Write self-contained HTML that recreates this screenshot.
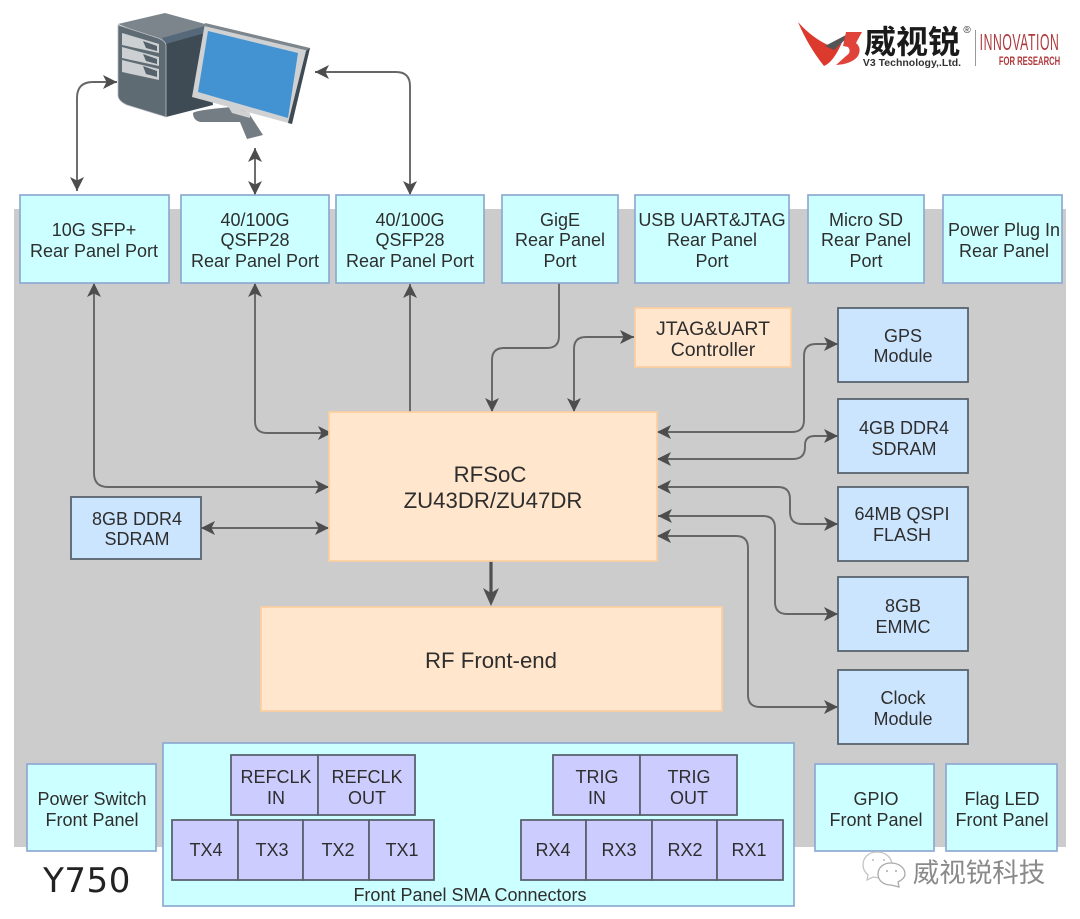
<!DOCTYPE html>
<html><head><meta charset="utf-8"><style>
html,body{margin:0;padding:0;background:#fff}
svg{display:block}
text{font-family:"Liberation Sans","Noto Sans CJK SC",sans-serif;font-size:18px;fill:#2e2e2e;text-anchor:middle}
.c{fill:#ccffff;stroke:#8ea9d2;stroke-width:1.7}
.o{fill:#ffe6cc;stroke:#fdcf9f;stroke-width:1.7}
.b{fill:#cce5ff;stroke:#59636d;stroke-width:1.8}
.p{fill:#ccccff;stroke:#59636d;stroke-width:1.8}
.l{fill:none;stroke:#666;stroke-width:1.9}
</style></head><body>
<svg width="1080" height="919" viewBox="0 0 1080 919" xmlns="http://www.w3.org/2000/svg">
<defs>
<marker id="a" markerUnits="userSpaceOnUse" markerWidth="16" markerHeight="16" refX="14" refY="8" orient="auto-start-reverse"><path d="M0 1L14 8L0 15L3.5 8Z" fill="#4d4d4d"/></marker>
</defs>
<rect x="14" y="209" width="1052" height="638" fill="#cccccc"/>

<!-- computer -->
<path d="M118 24L165 13L205 24L205 40L165 42Z" fill="#7c858b"/>
<path d="M162 38L205 26L205 33L166 45Z" fill="#55697a"/>
<path d="M166 44L205 33L213 105L166 117Z" fill="#3f4b54"/>
<path d="M118 25L158 38Q166 41 166 46L166 117L127 105Q118 101 118 95Z" fill="#5f6b73" stroke="#b9bec2" stroke-width=".8"/>
<path d="M122 33L159 44L159 53L122 45Z M122 47L159 57L159 66L122 58Z M122 60L159 69L159 80L122 72Z" fill="#cdd0d3"/>
<path d="M143 41L157 46L157 51L146 48Z M143 54L157 59L157 64L146 61Z M143 66L157 71L157 77L146 74Z" fill="#55626b"/>
<path d="M193 113Q196 110 232 107L245 111L250 115L263 135L247 139L240 122L200 122Q193 120 193 113Z" fill="#747d84"/>
<path d="M228 106L250 113L250 118L232 113Z" fill="#cfd1d3"/>
<path d="M205 23L310 48L292 124L192 97Z" fill="#cfd1d3"/>
<path d="M205 23L310 48L309 51L204 26Z" fill="#7c868c"/>
<path d="M310 48L292 124L288 123L306 51Z" fill="#3f4b54"/>
<path d="M208 31L298 53L288 118L198 92Z" fill="#4393d3"/>

<!-- logo -->
<path d="M798 22Q808 46 824 66Q834 62 843 40L850 35L830 46Q812 38 798 22Z" fill="#dc3a2c"/>
<path d="M825 46L846 35L848 37L834 50Z" fill="#555"/>
<path d="M846 32L862 32L856 43Q862 48 858 56Q852 64 836 65L846 56Q852 52 848 47L843 46Z" fill="#e0433a"/>
<text x="912" y="53" style="font-size:32px;fill:#1a1a1a;font-weight:700">威视锐</text>
<text x="967" y="33" style="font-size:10px;fill:#333">®</text>
<text x="912" y="66" style="font-size:10.5px;font-weight:700;fill:#333">V3 Technology,.Ltd.</text>
<rect x="975" y="30" width="1" height="36" fill="#999"/>
<text transform="translate(1019.500,50) scale(.58,1.1)" style="font-size:21px;fill:#b03a3e;letter-spacing:1px">INNOVATION</text>
<text transform="translate(1029.500,65) scale(.64,1)" style="font-size:12px;fill:#b03a3e;font-weight:700">FOR RESEARCH</text>

<!-- connectors -->
<path class="l" d="M77 191V98Q77 82 93 82H117" marker-start="url(#a)" marker-end="url(#a)"/>
<path class="l" d="M255 195V148" marker-start="url(#a)" marker-end="url(#a)"/>
<path class="l" d="M410 195V86Q410 72 396 72H315" marker-start="url(#a)" marker-end="url(#a)"/>
<path class="l" d="M94 283V473Q94 487 108 487H329" marker-start="url(#a)" marker-end="url(#a)"/>
<path class="l" d="M255 283V421Q255 433 267 433H332" marker-start="url(#a)" marker-end="url(#a)"/>
<path class="l" d="M410 412V284" marker-end="url(#a)"/>
<path class="l" d="M559 283V336Q559 348 547 348H504Q492 348 492 360V412" marker-end="url(#a)"/>
<path class="l" d="M634 337H586Q574 337 574 349V412" marker-start="url(#a)" marker-end="url(#a)"/>
<path class="l" d="M657 432H792Q804 432 804 420V356Q804 344 816 344H838" marker-start="url(#a)" marker-end="url(#a)"/>
<path class="l" d="M657 459H793Q805 459 805 447V445Q805 436 815 436H838" marker-start="url(#a)" marker-end="url(#a)"/>
<path class="l" d="M657 487H778Q790 487 790 499V512Q790 524 802 524H838" marker-start="url(#a)" marker-end="url(#a)"/>
<path class="l" d="M658 516H763Q775 516 775 528V602Q775 614 787 614H838" marker-start="url(#a)" marker-end="url(#a)"/>
<path class="l" d="M657 536H736Q748 536 748 548V695Q748 707 760 707H838" marker-start="url(#a)" marker-end="url(#a)"/>
<path class="l" d="M201 528H329" marker-start="url(#a)" marker-end="url(#a)"/>
<path d="M491 561V596" fill="none" stroke="#505050" stroke-width="3.2"/>
<path d="M483 588L491 606L499 588L491 593Z" fill="#505050"/>

<!-- top row -->
<rect class="c" x="20" y="195" width="149" height="88"/>
<text x="94" y="236">10G SFP+</text><text x="94" y="257">Rear Panel Port</text>
<rect class="c" x="181" y="195" width="148" height="88"/>
<text x="255" y="226">40/100G</text><text x="255" y="246">QSFP28</text><text x="255" y="267">Rear Panel Port</text>
<rect class="c" x="336" y="195" width="148" height="88"/>
<text x="410" y="226">40/100G</text><text x="410" y="246">QSFP28</text><text x="410" y="267">Rear Panel Port</text>
<rect class="c" x="502" y="195" width="116" height="88"/>
<text x="560" y="226">GigE</text><text x="560" y="246">Rear Panel</text><text x="560" y="267">Port</text>
<rect class="c" x="635" y="195" width="154" height="88"/>
<text x="712" y="226">USB UART&amp;JTAG</text><text x="712" y="246">Rear Panel</text><text x="712" y="267">Port</text>
<rect class="c" x="808" y="195" width="116" height="88"/>
<text x="866" y="226">Micro SD</text><text x="866" y="246">Rear Panel</text><text x="866" y="267">Port</text>
<rect class="c" x="943" y="195" width="119" height="88"/>
<text x="1004" y="236">Power Plug In</text><text x="1004" y="257">Rear Panel</text>

<!-- middle -->
<rect class="o" x="635" y="308" width="156" height="59"/>
<text x="713" y="335" style="font-size:19.500px">JTAG&amp;UART</text><text x="713" y="356" style="font-size:19.500px">Controller</text>
<rect class="b" x="838" y="308" width="130" height="74"/>
<text x="903" y="342">GPS</text><text x="903" y="362">Module</text>
<rect class="b" x="838" y="399" width="130" height="74"/>
<text x="904" y="434">4GB DDR4</text><text x="904" y="455">SDRAM</text>
<rect class="b" x="838" y="487" width="130" height="74"/>
<text x="902" y="520">64MB QSPI</text><text x="902" y="541">FLASH</text>
<rect class="b" x="838" y="577" width="130" height="74"/>
<text x="903" y="612">8GB</text><text x="903" y="633">EMMC</text>
<rect class="b" x="838" y="670" width="130" height="74"/>
<text x="903" y="704">Clock</text><text x="903" y="725">Module</text>
<rect class="o" x="329" y="412" width="328" height="149"/>
<text x="490" y="482" style="font-size:22.200px">RFSoC</text><text x="493" y="508" style="font-size:22.200px">ZU43DR/ZU47DR</text>
<rect class="o" x="261" y="607" width="461" height="104"/>
<text x="491" y="668" style="font-size:22.200px">RF Front-end</text>
<rect class="b" x="71" y="497" width="130" height="62"/>
<text x="137" y="525">8GB DDR4</text><text x="137" y="545">SDRAM</text>

<!-- bottom -->
<rect class="c" x="27" y="764" width="129" height="87"/>
<text x="92" y="805">Power Switch</text><text x="92" y="826">Front Panel</text>
<rect class="c" x="163" y="743" width="631" height="163"/>
<text x="470" y="901">Front Panel SMA Connectors</text>
<rect class="c" x="815" y="764" width="119" height="87"/>
<text x="876" y="805">GPIO</text><text x="876" y="826">Front Panel</text>
<rect class="c" x="946" y="764" width="111" height="87"/>
<text x="1002" y="805">Flag LED</text><text x="1002" y="826">Front Panel</text>

<rect class="p" x="231" y="755" width="87" height="60"/><rect class="p" x="318" y="755" width="97" height="60"/>
<text x="276" y="783">REFCLK</text><text x="276" y="804">IN</text>
<text x="367" y="783">REFCLK</text><text x="367" y="804">OUT</text>
<rect class="p" x="553" y="755" width="87" height="60"/><rect class="p" x="640" y="755" width="97" height="60"/>
<text x="597" y="783">TRIG</text><text x="597" y="804">IN</text>
<text x="689" y="783">TRIG</text><text x="689" y="804">OUT</text>
<rect class="p" x="172" y="820" width="66" height="60"/><rect class="p" x="238" y="820" width="65" height="60"/><rect class="p" x="303" y="820" width="66" height="60"/><rect class="p" x="369" y="820" width="65" height="60"/>
<text x="206" y="856">TX4</text><text x="272" y="856">TX3</text><text x="338" y="856">TX2</text><text x="402" y="856">TX1</text>
<rect class="p" x="521" y="820" width="65" height="60"/><rect class="p" x="586" y="820" width="66" height="60"/><rect class="p" x="652" y="820" width="65" height="60"/><rect class="p" x="717" y="820" width="66" height="60"/>
<text x="553" y="856">RX4</text><text x="619" y="856">RX3</text><text x="685" y="856">RX2</text><text x="749" y="856">RX1</text>

<text x="87" y="892" style="font-family:'DejaVu Sans',sans-serif;font-size:34px;letter-spacing:.5px;fill:#222">Y750</text>

<!-- watermark -->
<path d="M877 852C868 852 863 858 863 865C863 870 866 873 868 875L867 880L873 877L880 878C889 878 892 871 892 865C892 858 886 852 877 852Z" fill="#fff" stroke="#c4c4c4" stroke-width="1.3"/>
<path d="M891 863C883 863 878 868 878 874C878 881 884 885 891 885L899 887L898 882C902 880 905 877 905 874C905 868 899 863 891 863Z" fill="#fff" stroke="#aaa" stroke-width="1.3"/>
<circle cx="873" cy="860" r="1" fill="#bbb"/><circle cx="884" cy="860" r="1" fill="#bbb"/><circle cx="887" cy="871" r="1" fill="#aaa"/><circle cx="896" cy="871" r="1" fill="#aaa"/>
<text x="979" y="882" style="font-size:26.500px;fill:#8a8a8a">威视锐科技</text>
</svg>
</body></html>
